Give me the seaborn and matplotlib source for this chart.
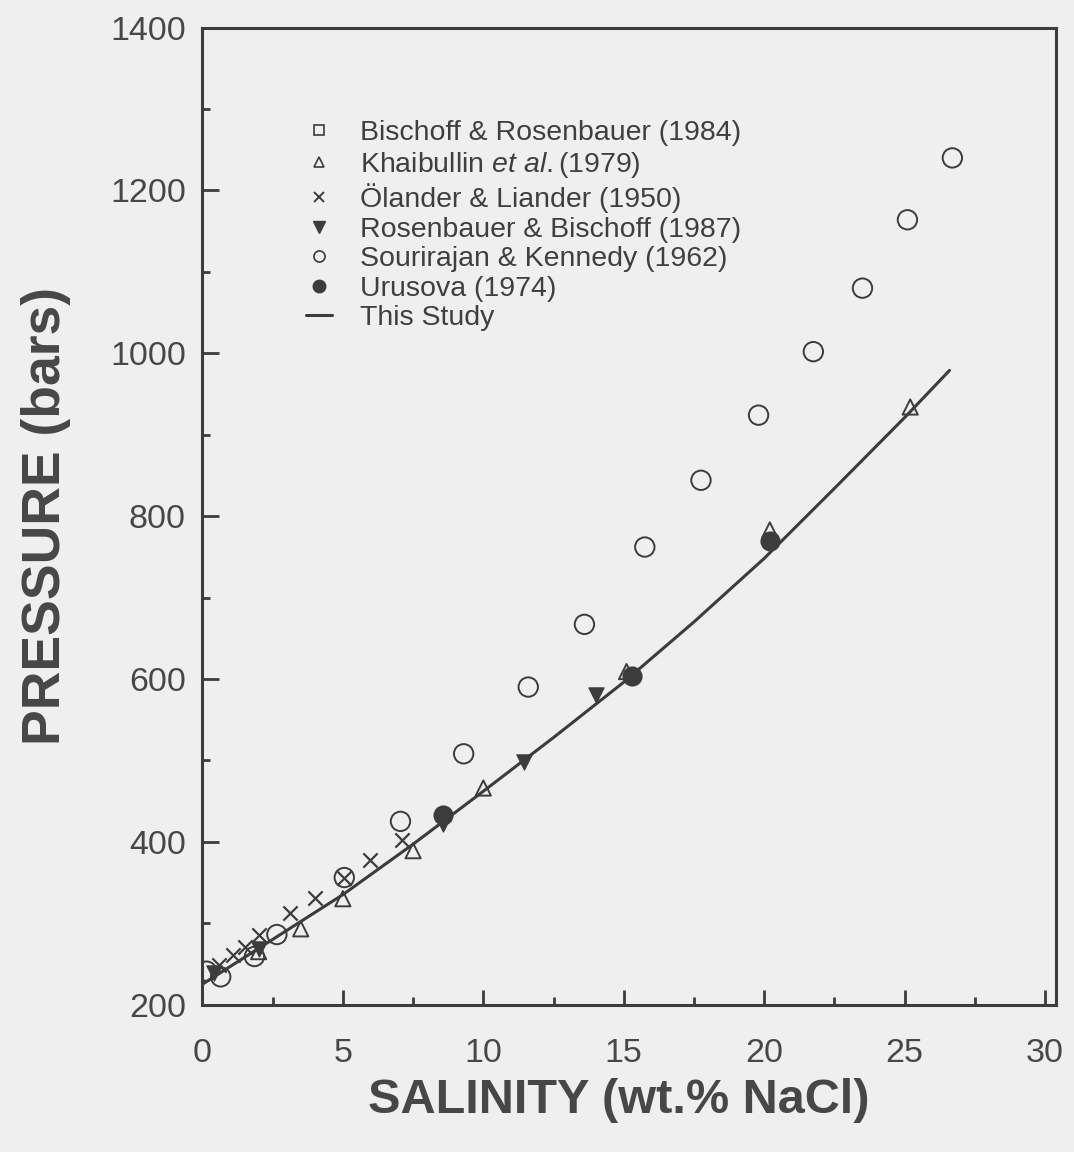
import numpy as np
import pandas as pd
import matplotlib
matplotlib.use("Agg")
import matplotlib.pyplot as plt
from matplotlib.lines import Line2D
from matplotlib.ticker import MultipleLocator
import seaborn as sns

# ---- data (salinity wt.% NaCl, pressure bars) ----
bischoff_x = []
bischoff_y = []

khaibullin_x = [2.0, 3.5, 5.0, 7.5, 10.0, 15.1, 20.2, 25.2]
khaibullin_y = [265, 293, 330, 389, 466, 609, 783, 934]

olander_x = [0.6, 1.1, 1.5, 2.0, 3.1, 4.0, 5.05, 5.95, 7.1]
olander_y = [249, 261, 271, 286, 313, 331, 356, 378, 402]

rosenbauer_x = [0.4, 2.0, 8.55, 11.45, 14.0]
rosenbauer_y = [239, 268, 422, 498, 580]

sourirajan_x = [0.15, 0.65, 1.85, 2.65, 5.05, 7.05, 9.3, 11.6, 13.6, 15.75, 17.75, 19.8, 21.75, 23.5, 25.1, 26.7]
sourirajan_y = [241, 234, 259, 286, 356, 425, 508, 590, 667, 762, 844, 924, 1002, 1080, 1164, 1240]

urusova_x = [8.55, 15.3, 20.2]
urusova_y = [433, 603, 769]

study_x = [0, 2.5, 5, 7.5, 10, 12.5, 15, 17.5, 20, 22.5, 25, 26.6]
study_y = [225, 280, 335, 397, 462, 528, 596, 670, 748, 834, 921, 979]

labels = ["Bischoff & Rosenbauer (1984)",
          "Khaibullin $\\it{et\\ al.}$(1979)",
          "Ölander & Liander (1950)",
          "Rosenbauer & Bischoff (1987)",
          "Sourirajan & Kennedy (1962)",
          "Urusova (1974)",
          "This Study"]

INK = "#3c3c3c"
BG = "#efefef"
TXT = "#474747"

sns.set_style("ticks")
plt.rcParams["font.family"] = ["Liberation Sans", "DejaVu Sans"]
plt.rcParams["mathtext.fontset"] = "custom"
plt.rcParams["mathtext.rm"] = "Liberation Sans"
plt.rcParams["mathtext.it"] = "Liberation Sans:italic"

fig = plt.figure(figsize=(10.74, 11.52), dpi=100, facecolor=BG)
ax = fig.add_axes([0.1885, 0.128, 0.795, 0.848])
ax.set_facecolor(BG)

line_df = pd.DataFrame({"x": study_x, "y": study_y})
sns.lineplot(data=line_df, x="x", y="y", ax=ax, color=INK, lw=2.2, zorder=2)

ms = 150
def sc(xs, ys, **kw):
    if len(xs) == 0:
        return
    d = pd.DataFrame({"x": xs, "y": ys})
    sns.scatterplot(data=d, x="x", y="y", ax=ax, zorder=3, **kw)

sc(bischoff_x, bischoff_y, marker="s", s=ms * 0.7, facecolor="none", edgecolor=INK, linewidth=1.4)
sc(khaibullin_x, khaibullin_y, marker="^", s=ms * 0.8, facecolor="none", edgecolor=INK, linewidth=1.4)
sc(olander_x, olander_y, marker="x", s=ms * 0.7, color=INK, linewidth=1.6)
sc(rosenbauer_x, rosenbauer_y, marker="v", s=ms * 0.8, color=INK, edgecolor=INK)
sc(sourirajan_x, sourirajan_y, marker="o", s=ms * 1.3, facecolor="none", edgecolor=INK, linewidth=1.4)
sc(urusova_x, urusova_y, marker="o", s=ms * 1.2, color=INK, edgecolor=INK)

ax.set_xlim(0, 30.4)
ax.set_ylim(200, 1400)
ax.xaxis.set_major_locator(MultipleLocator(5))
ax.xaxis.set_minor_locator(MultipleLocator(2.5))
ax.yaxis.set_major_locator(MultipleLocator(200))
ax.yaxis.set_minor_locator(MultipleLocator(100))
ax.tick_params(which="both", direction="in", color=INK, width=2.0,
               top=False, right=False)
ax.tick_params(axis="x", which="major", length=11, pad=24, labelsize=24.5, labelcolor=TXT)
ax.tick_params(axis="x", which="minor", length=6)
ax.tick_params(axis="y", which="major", length=12, pad=12, labelsize=24.5, labelcolor=TXT)
ax.tick_params(axis="y", which="minor", length=6)
for sp in ax.spines.values():
    sp.set_color(INK)
    sp.set_linewidth(2.2)

ax.set_xlabel("SALINITY (wt.% NaCl)", fontsize=35, fontweight="bold", color=TXT, labelpad=9)
ax.xaxis.set_label_coords(0.488, -0.075)
ax.set_ylabel("PRESSURE (bars)", fontsize=38.5, fontweight="bold", color=TXT, labelpad=28)

handles = [
    Line2D([], [], ls="none", marker="s", mfc="none", mec=INK, ms=7, mew=1.2),
    Line2D([], [], ls="none", marker="^", mfc="none", mec=INK, ms=7, mew=1.2),
    Line2D([], [], ls="none", marker="x", color=INK, ms=7, mew=1.4),
    Line2D([], [], ls="none", marker="v", color=INK, ms=8),
    Line2D([], [], ls="none", marker="o", mfc="none", mec=INK, ms=8, mew=1.2),
    Line2D([], [], ls="none", marker="o", color=INK, ms=9),
    Line2D([], [], color=INK, lw=2.2),
]
leg = ax.legend(handles, labels, loc="upper left", bbox_to_anchor=(0.105, 0.92),
                frameon=False, fontsize=20.5, handlelength=0.9, handletextpad=1.0,
                labelspacing=0.125, borderpad=0)
for t in leg.get_texts():
    t.set_color("#3f3f3f")

fig.savefig("out.png", dpi=100, facecolor=BG)
